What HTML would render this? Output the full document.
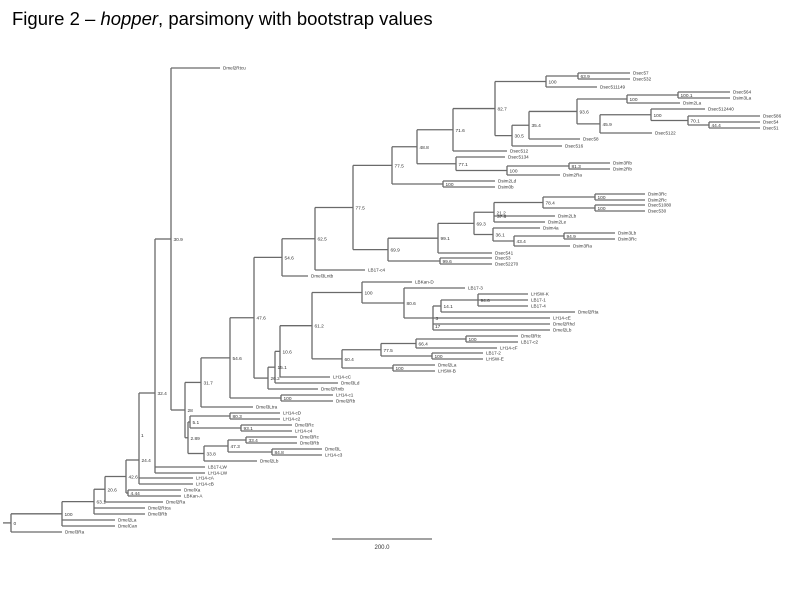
<!DOCTYPE html>
<html><head><meta charset="utf-8">
<style>
html,body{margin:0;padding:0;background:#fff;}
#w{position:relative;width:792px;height:612px;overflow:hidden;}
#t{position:absolute;left:12px;top:8px;font-family:"Liberation Sans",sans-serif;font-size:18.5px;color:#000;white-space:nowrap;}
svg{position:absolute;left:0;top:0;}
</style></head><body>
<div id="w">
<div id="t">Figure 2 – <i>hopper</i>, parsimony with bootstrap values</div>
<svg id="s" width="792" height="612" viewBox="0 0 792 612" font-family="Liberation Sans, sans-serif"></svg>
</div>
<script>
function L(y,x,n){return{x:x,y:y,n:n};}
function N(x,l,c,y){return{x:x,l:l,c:c,yo:y};}
const N771=N(456,'77.1',[L(157,505,'Dsec5134'),N(507,'100',[N(569,'81.3',[L(163,610,'Dsim3Rb'),L(169,610,'Dsim2Rb')]),L(175,560,'Dsim2Ra')])]);
const N716=N(453,'71.6',[N(495,'82.7',[N(546,'100',[N(578,'63.9',[L(73,630,'Dsec57'),L(79,630,'Dsec532')]),L(87,597,'Dsec511149')]),N(512,'30.5',[N(529,'35.4',[N(577,'93.6',[N(627,'100',[N(678,'100.1',[L(92,730,'Dsec564'),L(98,730,'Dsim3La')]),L(103,680,'Dsim2La')]),N(600,'45.9',[N(651,'100',[L(109,705,'Dsec512440'),N(688,'70.1',[L(116,760,'Dsec586'),N(709,'44.4',[L(122,760,'Dsec54'),L(128,760,'Dsec51')])])]),L(133,652,'Dsec5122')])]),L(139,580,'Dsec58')]),L(146,562,'Dsec516')])]),L(151,507,'Dsec512')]);
const N699=N(388,'69.9',[N(438,'99.1',[N(474,'69.3',[N(494,'21.2',[N(543,'78.4',[N(595,'100',[L(194,645,'Dsim3Rc'),L(200,645,'Dsim2Rc')]),N(595,'100',[L(205,645,'Dsec51080'),L(211,645,'Dsec530')])]),L(216,555,'Dsim2Lb'),L(222,545,'Dsim2Le')]),N(493,'36.1',[L(228,540,'Dsim4a'),N(514,'43.4',[N(564,'94.9',[L(233,615,'Dsim3Lb'),L(239,615,'Dsim3Rc')]),L(246,570,'Dsim3Ra')])])]),L(253,492,'Dsec541')]),N(440,'99.6',[L(258,492,'Dsec53'),L(264,492,'Dsec52270')])]);
const N775u=N(392,'77.5',[N(417,'48.8',[N716,N771]),N(443,'100',[L(181,495,'Dsim2Ld'),L(187,495,'Dsim0b')])]);
const N775l=N(353,'77.5',[N775u,N699]);
const N625=N(315,'62.5',[N775l,L(270,365,'LB17-c4')]);
const N546u=N(282,'54.6',[N625,L(276,308,'Dmel3Lntb')]);
const N612=N(312,'61.2',[N(362,'100',[L(282,412,'LBKan-D'),N(404,'80.6',[L(288,465,'LB17-3'),N(433,'3',[N(441,'14.1',[N(478,'94.6',[L(294,528,'LHSW-K'),L(300,528,'LB17-1'),L(306,528,'LB17-4')]),L(312,575,'Dmel2Rta')]),L(318,550,'LH14-cE'),L(324,550,'Dmel2Rhd'),L(330,550,'Dmel2Lb')])])]),N(342,'60.4',[N(381,'77.5',[N(416,'66.4',[N(466,'100',[L(336,518,'Dmel3Rtc'),L(342,518,'LB17-c2')]),L(348,497,'LH14-cF')]),N(432,'100',[L(353,483,'LB17-2'),L(359,483,'LHSW-E')])]),N(393,'100',[L(365,435,'Dmel2La'),L(371,435,'LHSW-B')])])]);
const N262=N(268,'26.2',[N(275,'15.1',[N(280,'10.6',[N612,L(377,330,'LH14-cC')]),L(383,338,'Dmel3Ld')]),L(389,318,'Dmel2Rntb')]);
const N476=N(254,'47.6',[N546u,N262]);
const N546=N(230,'54.6',[N476,N(281,'100',[L(395,333,'LH14-c1'),L(401,333,'Dmel2Rb')])]);
const N317=N(201,'31.7',[N546,L(407,253,'Dmel3Ltra')]);
const N51=N(190,'5.1',[N(230,'80.3',[L(413,280,'LH14-cD'),L(419,280,'LH14-c2')]),N(241,'93.1',[L(425,292,'Dmel3Rc'),L(431,292,'LH14-c4')])]);
const N338=N(204,'33.8',[N(228,'47.3',[N(246,'33.4',[L(437,297,'Dmel3Rc'),L(443,297,'Dmel3Rb')]),N(272,'84.8',[L(449,322,'Dmel3L'),L(455,322,'LH14-c3')])]),L(461,257,'Dmel2Lb')]);
const N28=N(185,'28',[N317,N(188,'2.89',[N51,N338])],410);
const N309=N(171,'30.9',[L(68,220,'Dmel2Rtcu'),N28]);
const N32=N(155,'32.4',[N309,L(467,205,'LB17-LW'),L(473,205,'LH14-LW')],393);
const root=N(11,'0',[N(62,'100',[N(94,'63.1',[N(105,'20.6',[N(126,'42.6',[N(139,'24.4',[N32,L(478,193,'LH14-cA'),L(484,193,'LH14-cB')],460),N(128,'4.44',[L(490,181,'DmelXa'),L(496,181,'LBKan-A')])]),L(502,163,'Dmel2Ra')]),L(508,145,'Dmel2Rtca'),L(514,145,'Dmel3Rb')]),L(520,115,'Dmel2La'),L(526,115,'DmelCan')]),L(532,62,'Dmel3Ra')]);
function cy(n){if(!n.c)return n.y;let ys=n.c.map(cy);n.y0=Math.min(...ys);n.y1=Math.max(...ys);n.y=(n.yo!==undefined)?n.yo:(n.y0+n.y1)/2;return n.y;}
cy(root);
let o='';const st='stroke="#6a6a6a" stroke-width="1.3"';
function dr(n){
 if(!n.c){o+=`<text x="${n.x+3}" y="${n.y+1.6}" font-size="4.6" fill="#333">${n.n}</text>`;return;}
 let y0=Math.min(n.y0,n.y),y1=Math.max(n.y1,n.y);
 o+=`<line x1="${n.x}" y1="${y0}" x2="${n.x}" y2="${y1}" ${st}/>`;
 n.c.forEach(c=>{o+=`<line x1="${n.x}" y1="${c.y}" x2="${c.x}" y2="${c.y}" ${st}/>`;dr(c);});
 o+=`<text x="${n.x+2.5}" y="${n.y+2}" font-size="4.8" fill="#333">${n.l}</text>`;
}
dr(root);
o+=`<line x1="3" y1="${root.y}" x2="11" y2="${root.y}" ${st}/>`;
o+=`<text x="497" y="218" font-size="4.8" fill="#333">37.6</text><text x="141" y="437" font-size="4.8" fill="#333">1</text><text x="435" y="328" font-size="4.8" fill="#333">17</text>`;
o+=`<line x1="332" y1="539" x2="432" y2="539" ${st}/><text x="382" y="549" font-size="6" fill="#333" text-anchor="middle">200.0</text>`;
document.getElementById('s').innerHTML=o;
</script>
</body></html>
